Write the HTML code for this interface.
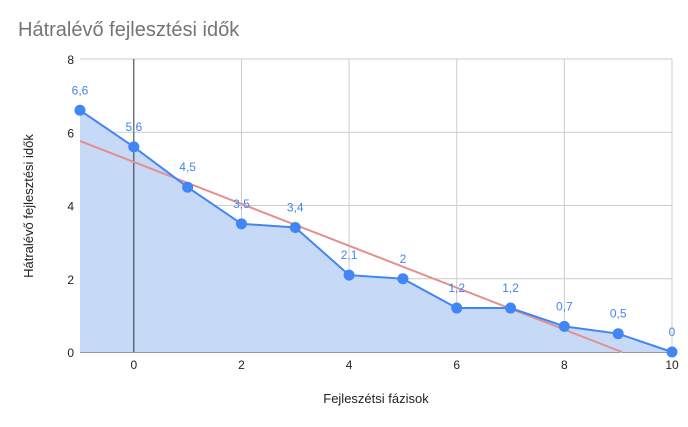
<!DOCTYPE html>
<html><head><meta charset="utf-8"><style>
body{margin:0;background:#fff;font-family:"Liberation Sans",sans-serif}
</style></head><body>
<svg width="688" height="422" xmlns="http://www.w3.org/2000/svg">
<rect width="688" height="422" fill="#fff"/>
<text x="18" y="36" font-size="20" fill="#757575">Hátralévő fejlesztési idők</text>
<g id="grid"></g>
<g id="marks"></g>
<text x="376" y="403" font-size="13" text-anchor="middle" fill="#222">Fejleszétsi fázisok</text>
<text transform="translate(33,206) rotate(-90)" font-size="13" text-anchor="middle" fill="#222">Hátralévő fejlesztési idők</text>
</svg>
<script>
const xs=[-1,0,1,2,3,4,5,6,7,8,9,10];
const ys=[6.6,5.6,4.5,3.5,3.4,2.1,2,1.2,1.2,0.7,0.5,0];
const labels=["6,6","5,6","4,5","3,5","3,4","2,1","2","1,2","1,2","0,7","0,5","0"];
const xTicks=[0,2,4,6,8,10];
const yTicks=[0,2,4,6,8];
const trendX=[-1,9.07];
const trendY=[5.76,0];
const X=v=>80+(v+1)*(592/11);
const Y=v=>352-v*(293/8);
const NS="http://www.w3.org/2000/svg";
const grid=document.getElementById('grid'),marks=document.getElementById('marks');
function mk(p,tag,a,txt){const e=document.createElementNS(NS,tag);for(const k in a)e.setAttribute(k,a[k]);if(txt!=null)e.textContent=txt;p.appendChild(e);return e;}
yTicks.forEach(t=>{
 const l=mk(grid,'line',{x1:80,x2:672,y1:Y(t),y2:Y(t),stroke:t==0?'#333':'#ccc','stroke-width':1});
 
 
 const tx=mk(grid,'text',{x:74,y:Y(t)+5,'font-size':12,'text-anchor':'end',fill:'#222'},String(t));
 
 
});
xTicks.forEach(t=>{
 if(t!==0){
 const l=mk(grid,'line',{x1:X(t),x2:X(t),y1:Y(8),y2:Y(0),stroke:'#ccc','stroke-width':1});
 
 
 }
 const tx=mk(grid,'text',{x:X(t),y:369,'font-size':12,'text-anchor':'middle',fill:'#222'},String(t));
 
 
});
let pts=xs.map((x,i)=>X(x)+','+Y(ys[i])).join(' ');
const area=mk(marks,'polygon',{points:X(xs[0])+','+Y(0)+' '+pts+' '+X(xs[xs.length-1])+','+Y(0),fill:'#c6d9f7'});


const ax=mk(marks,'line',{x1:X(0),x2:X(0),y1:Y(8),y2:Y(0),stroke:'#333','stroke-width':1});


const tr=mk(marks,'line',{x1:X(trendX[0]),y1:Y(trendY[0]),x2:X(trendX[1]),y2:Y(trendY[1]),stroke:'#e3908c','stroke-width':2});


const ln=mk(marks,'polyline',{points:pts,fill:'none',stroke:'#4285f4','stroke-width':2});


xs.forEach((x,i)=>{
 const c=mk(marks,'circle',{cx:X(x),cy:Y(ys[i]),r:5.5,fill:'#4285f4'});
 
 
 const t=mk(marks,'text',{x:X(x),y:Y(ys[i])-16,'font-size':12,'text-anchor':'middle',fill:'#4285f4'},labels[i]);
 
 
});
</script>
</body></html>
